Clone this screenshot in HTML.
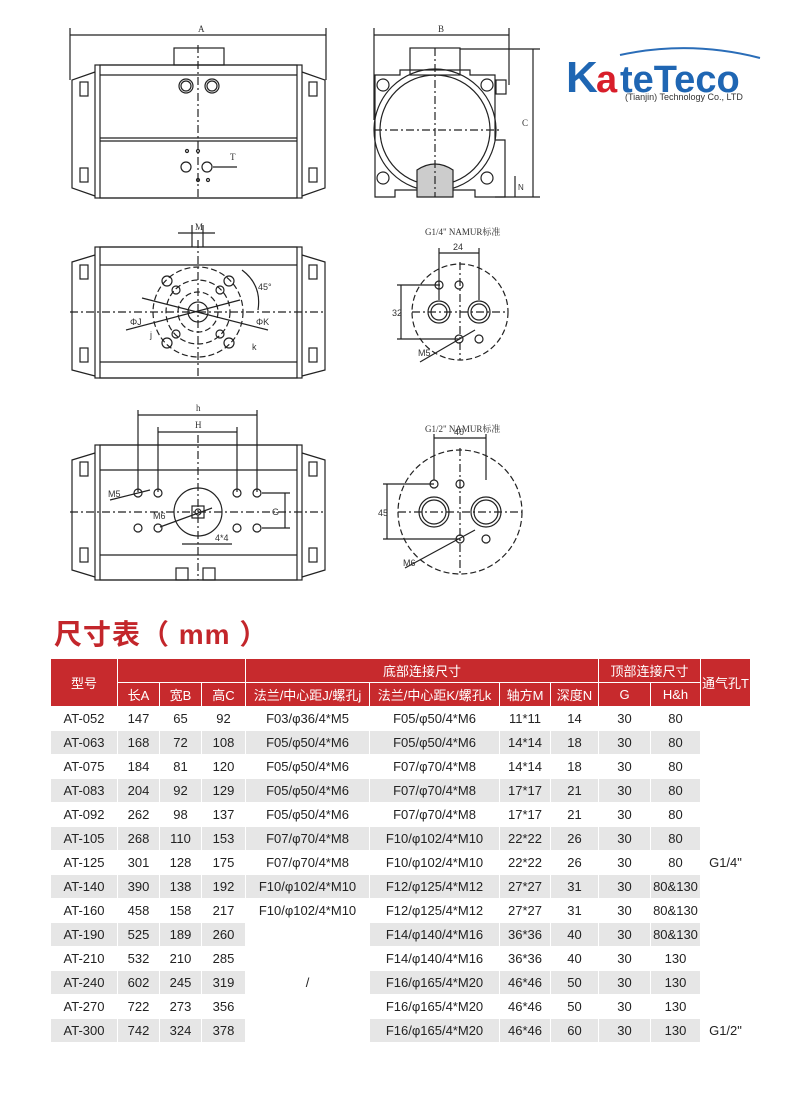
<!DOCTYPE html>
<html><head><meta charset="utf-8"><style>
html,body{margin:0;padding:0;background:#fff;}
body{width:800px;height:1112px;position:relative;overflow:hidden;font-family:"Liberation Sans","Noto Sans CJK SC",sans-serif;}
svg{position:absolute;left:0;top:0;}
.title{position:absolute;left:54px;top:613px;font-size:28px;font-weight:bold;color:#c3262b;letter-spacing:1px;font-family:"Liberation Sans","Noto Sans CJK SC",sans-serif;}
table{position:absolute;left:50px;top:658px;border-collapse:collapse;table-layout:fixed;font-size:13px;color:#222;}
td{padding:0;text-align:center;border:1px solid #fff;height:23px;white-space:nowrap;overflow:hidden;}
.h td{background:#c72a2d;color:#fff;}
.g td.c{background:#e6e6e6;}
</style></head><body>
<svg width="800" height="600" viewBox="0 0 800 600" fill="none" stroke="#222" stroke-width="1.2">
<g>
<line x1="70" y1="35" x2="326" y2="35"/><line x1="70" y1="28" x2="70" y2="80"/><line x1="326" y1="28" x2="326" y2="80"/>
<text x="198" y="32" font-size="9" fill="#333" stroke="none" font-family="Liberation Serif">A</text>
<rect x="174" y="48" width="50" height="17"/>
<rect x="95" y="65" width="207" height="133"/><rect x="100" y="65" width="197" height="133"/>
<line x1="100" y1="75" x2="297" y2="75"/><line x1="100" y1="138" x2="297" y2="138"/><line x1="100" y1="141" x2="297" y2="141"/>
<path d="M95 72 L72 80 L72 188 L95 196"/><path d="M302 72 L325 80 L325 188 L302 196"/>
<rect x="80" y="82" width="8" height="14"/><rect x="80" y="168" width="8" height="14"/>
<rect x="309" y="82" width="8" height="14"/><rect x="309" y="168" width="8" height="14"/>
<circle cx="186" cy="86" r="7"/><circle cx="186" cy="86" r="5"/><circle cx="212" cy="86" r="7"/><circle cx="212" cy="86" r="5"/>
<circle cx="186" cy="167" r="5"/><circle cx="207" cy="167" r="5"/>
<circle cx="187" cy="151" r="1.5"/><circle cx="198" cy="151" r="1.5"/><circle cx="198" cy="180" r="1.5"/><circle cx="208" cy="180" r="1.5"/>
<line x1="198" y1="45" x2="198" y2="198" stroke-dasharray="8,3,2,3"/>
<line x1="213" y1="167" x2="237" y2="167"/>
<text x="230" y="160" font-size="9" fill="#333" stroke="none" font-family="Liberation Serif">T</text>
</g>
<g>
<line x1="374" y1="35" x2="509" y2="35"/><line x1="374" y1="28" x2="374" y2="120"/><line x1="509" y1="28" x2="509" y2="85"/>
<text x="438" y="32" font-size="9" fill="#333" stroke="none" font-family="Liberation Serif">B</text>
<rect x="410" y="48" width="50" height="27"/>
<line x1="460" y1="49" x2="540" y2="49"/><line x1="533" y1="49" x2="533" y2="197"/><line x1="495" y1="197" x2="540" y2="197"/>
<text x="522" y="126" font-size="9" fill="#333" stroke="none" font-family="Liberation Serif">C</text>
<path d="M400 75 L400 70 L470 70 L470 75 L495 75 L495 140 L505 140 L505 197 L475 197 L475 190 L395 190 L395 197 L375 197 L375 75 Z"/>
<circle cx="435" cy="130" r="61"/><circle cx="435" cy="130" r="55"/>
<circle cx="383" cy="85" r="6"/><circle cx="487" cy="85" r="6"/><circle cx="383" cy="178" r="6"/><circle cx="487" cy="178" r="6"/>
<rect x="496" y="80" width="10" height="14"/>
<path d="M417 197 L417 170 Q435 158 453 170 L453 197 Z" fill="#ccc"/>
<line x1="374" y1="130" x2="500" y2="130" stroke-dasharray="8,3,2,3"/><line x1="435" y1="48" x2="435" y2="197" stroke-dasharray="8,3,2,3"/>
<line x1="515" y1="176" x2="515" y2="197"/><text x="518" y="190" font-size="8" fill="#333" stroke="none">N</text>
</g>
<g>
<line x1="178" y1="233" x2="215" y2="233"/><line x1="192" y1="225" x2="192" y2="247"/><line x1="203" y1="225" x2="203" y2="247"/>
<text x="195" y="230" font-size="9" fill="#333" stroke="none" font-family="Liberation Serif">M</text>
<rect x="95" y="247" width="207" height="131"/><rect x="100" y="247" width="197" height="131"/>
<line x1="100" y1="265" x2="297" y2="265"/><line x1="100" y1="362" x2="297" y2="362"/>
<path d="M95 255 L72 262 L72 370 L95 376"/><path d="M302 255 L325 262 L325 370 L302 376"/>
<rect x="80" y="265" width="8" height="14"/><rect x="80" y="348" width="8" height="14"/>
<rect x="309" y="265" width="8" height="14"/><rect x="309" y="348" width="8" height="14"/>
<line x1="70" y1="312" x2="325" y2="312" stroke-dasharray="8,3,2,3"/><line x1="198" y1="240" x2="198" y2="378" stroke-dasharray="8,3,2,3"/>
<circle cx="198" cy="312" r="45" stroke-dasharray="6,3"/><circle cx="198" cy="312" r="32" stroke-dasharray="6,3"/><circle cx="198" cy="312" r="20" stroke-dasharray="6,3"/>
<circle cx="198" cy="312" r="10"/>
<circle cx="167" cy="281" r="5"/><circle cx="229" cy="281" r="5"/><circle cx="167" cy="343" r="5"/><circle cx="229" cy="343" r="5"/>
<circle cx="176" cy="290" r="4"/><circle cx="220" cy="290" r="4"/><circle cx="176" cy="334" r="4"/><circle cx="220" cy="334" r="4"/>
<line x1="142" y1="298" x2="268" y2="330"/><line x1="126" y1="330" x2="240" y2="300"/>
<text x="130" y="325" font-size="9" fill="#333" stroke="none">ΦJ</text><text x="256" y="325" font-size="9" fill="#333" stroke="none">ΦK</text>
<text x="150" y="338" font-size="9" fill="#333" stroke="none">j</text><text x="252" y="350" font-size="9" fill="#333" stroke="none">k</text>
<path d="M242 270 Q262 285 258 310"/><text x="258" y="290" font-size="9" fill="#333" stroke="none">45°</text>
</g>
<g>
<text x="425" y="235" font-size="9" fill="#333" stroke="none" font-family="Liberation Serif,Noto Serif CJK SC">G1/4" NAMUR标准</text>
<line x1="439" y1="253" x2="479" y2="253"/><line x1="439" y1="248" x2="439" y2="300"/><line x1="479" y1="248" x2="479" y2="300"/>
<text x="453" y="250" font-size="9" fill="#333" stroke="none">24</text>
<circle cx="460" cy="312" r="48" stroke-dasharray="6,3"/>
<line x1="412" y1="312" x2="508" y2="312" stroke-dasharray="8,3,2,3"/><line x1="460" y1="262" x2="460" y2="360" stroke-dasharray="8,3,2,3"/>
<circle cx="439" cy="312" r="11"/><circle cx="439" cy="312" r="8"/><circle cx="479" cy="312" r="11"/><circle cx="479" cy="312" r="8"/>
<circle cx="439" cy="285" r="4"/><circle cx="459" cy="285" r="4"/><circle cx="459" cy="339" r="4"/><circle cx="479" cy="339" r="4"/>
<line x1="397" y1="285" x2="440" y2="285"/><line x1="397" y1="339" x2="460" y2="339"/><line x1="401" y1="285" x2="401" y2="339"/>
<text x="392" y="316" font-size="9" fill="#333" stroke="none">32</text>
<line x1="420" y1="362" x2="475" y2="330"/><text x="418" y="356" font-size="9" fill="#333" stroke="none">M5</text>
</g>
<g>
<line x1="138" y1="415" x2="257" y2="415"/><line x1="138" y1="410" x2="138" y2="492"/><line x1="257" y1="410" x2="257" y2="492"/>
<text x="196" y="411" font-size="9" fill="#333" stroke="none" font-family="Liberation Serif">h</text>
<line x1="158" y1="432" x2="237" y2="432"/><line x1="158" y1="427" x2="158" y2="492"/><line x1="237" y1="427" x2="237" y2="492"/>
<text x="195" y="428" font-size="9" fill="#333" stroke="none" font-family="Liberation Serif">H</text>
<rect x="95" y="445" width="207" height="135"/><rect x="100" y="445" width="197" height="135"/>
<line x1="100" y1="470" x2="297" y2="470"/><line x1="100" y1="555" x2="297" y2="555"/>
<path d="M95 453 L72 460 L72 570 L95 577"/><path d="M302 453 L325 460 L325 570 L302 577"/>
<rect x="80" y="462" width="8" height="14"/><rect x="80" y="548" width="8" height="14"/>
<rect x="309" y="462" width="8" height="14"/><rect x="309" y="548" width="8" height="14"/>
<line x1="70" y1="512" x2="325" y2="512" stroke-dasharray="8,3,2,3"/><line x1="198" y1="435" x2="198" y2="580" stroke-dasharray="8,3,2,3"/>
<circle cx="198" cy="512" r="24"/><rect x="192" y="506" width="12" height="12"/><circle cx="198" cy="512" r="3"/>
<circle cx="138" cy="493" r="4"/><circle cx="158" cy="493" r="4"/><circle cx="237" cy="493" r="4"/><circle cx="257" cy="493" r="4"/>
<circle cx="138" cy="528" r="4"/><circle cx="158" cy="528" r="4"/><circle cx="237" cy="528" r="4"/><circle cx="257" cy="528" r="4"/>
<line x1="110" y1="500" x2="150" y2="490"/><text x="108" y="497" font-size="9" fill="#333" stroke="none">M5</text>
<line x1="160" y1="527" x2="212" y2="508"/><text x="153" y="519" font-size="9" fill="#333" stroke="none">M6</text>
<line x1="262" y1="493" x2="290" y2="493"/><line x1="262" y1="528" x2="290" y2="528"/><line x1="285" y1="493" x2="285" y2="528"/>
<text x="272" y="515" font-size="9" fill="#333" stroke="none">G</text>
<line x1="182" y1="544" x2="232" y2="544"/><text x="215" y="541" font-size="9" fill="#333" stroke="none">4*4</text>
<rect x="176" y="568" width="12" height="12"/><rect x="203" y="568" width="12" height="12"/>
</g>
<g>
<text x="425" y="432" font-size="9" fill="#333" stroke="none" font-family="Liberation Serif,Noto Serif CJK SC">G1/2" NAMUR标准</text>
<line x1="434" y1="438" x2="486" y2="438"/><line x1="434" y1="434" x2="434" y2="480"/><line x1="486" y1="434" x2="486" y2="480"/>
<text x="454" y="435" font-size="9" fill="#333" stroke="none">40</text>
<circle cx="460" cy="512" r="62" stroke-dasharray="6,3"/>
<line x1="398" y1="512" x2="522" y2="512" stroke-dasharray="8,3,2,3"/><line x1="460" y1="448" x2="460" y2="576" stroke-dasharray="8,3,2,3"/>
<circle cx="434" cy="512" r="15"/><circle cx="434" cy="512" r="12"/><circle cx="486" cy="512" r="15"/><circle cx="486" cy="512" r="12"/>
<circle cx="434" cy="484" r="4"/><circle cx="460" cy="484" r="4"/><circle cx="460" cy="539" r="4"/><circle cx="486" cy="539" r="4"/>
<line x1="383" y1="484" x2="434" y2="484"/><line x1="383" y1="539" x2="460" y2="539"/><line x1="387" y1="484" x2="387" y2="539"/>
<text x="378" y="516" font-size="9" fill="#333" stroke="none">45</text>
<line x1="405" y1="568" x2="475" y2="530"/><text x="403" y="566" font-size="9" fill="#333" stroke="none">M6</text>
</g>
<path d="M620 55 Q690 40 760 58" stroke="#2a6db8" stroke-width="2"/>
<text x="566" y="92" font-size="44" font-weight="bold" fill="#1f66b3" stroke="none" font-family="Liberation Sans">K</text>
<text x="596" y="92" font-size="38" font-weight="bold" fill="#d81e2a" stroke="none" font-family="Liberation Sans">a</text>
<text x="620" y="92" font-size="38" font-weight="bold" fill="#1f66b3" stroke="none" font-family="Liberation Sans">teTeco</text>
<text x="625" y="100" font-size="9" fill="#333" stroke="none" font-family="Liberation Sans">(Tianjin) Technology Co., LTD</text>
</svg>
<div class="title">尺寸表（ mm ）</div>
<table>
<colgroup><col style="width:67px"><col style="width:42px"><col style="width:42px"><col style="width:44px"><col style="width:124px"><col style="width:130px"><col style="width:51px"><col style="width:48px"><col style="width:52px"><col style="width:50px"><col style="width:50px"></colgroup>
<tr class="h"><td rowspan="2" style="height:45px">型号</td><td colspan="3"></td><td colspan="4">底部连接尺寸</td><td colspan="2">顶部连接尺寸</td><td rowspan="2">通气孔T</td></tr>
<tr class="h"><td>长A</td><td>宽B</td><td>高C</td><td>法兰/中心距J/螺孔j</td><td>法兰/中心距K/螺孔k</td><td>轴方M</td><td>深度N</td><td>G</td><td>H&amp;h</td></tr>
<tr><td class="c">AT-052</td><td class="c">147</td><td class="c">65</td><td class="c">92</td><td class="c">F03/φ36/4*M5</td><td class="c">F05/φ50/4*M6</td><td class="c">11*11</td><td class="c">14</td><td class="c">30</td><td class="c">80</td><td></td></tr>
<tr class="g"><td class="c">AT-063</td><td class="c">168</td><td class="c">72</td><td class="c">108</td><td class="c">F05/φ50/4*M6</td><td class="c">F05/φ50/4*M6</td><td class="c">14*14</td><td class="c">18</td><td class="c">30</td><td class="c">80</td><td></td></tr>
<tr><td class="c">AT-075</td><td class="c">184</td><td class="c">81</td><td class="c">120</td><td class="c">F05/φ50/4*M6</td><td class="c">F07/φ70/4*M8</td><td class="c">14*14</td><td class="c">18</td><td class="c">30</td><td class="c">80</td><td></td></tr>
<tr class="g"><td class="c">AT-083</td><td class="c">204</td><td class="c">92</td><td class="c">129</td><td class="c">F05/φ50/4*M6</td><td class="c">F07/φ70/4*M8</td><td class="c">17*17</td><td class="c">21</td><td class="c">30</td><td class="c">80</td><td></td></tr>
<tr><td class="c">AT-092</td><td class="c">262</td><td class="c">98</td><td class="c">137</td><td class="c">F05/φ50/4*M6</td><td class="c">F07/φ70/4*M8</td><td class="c">17*17</td><td class="c">21</td><td class="c">30</td><td class="c">80</td><td></td></tr>
<tr class="g"><td class="c">AT-105</td><td class="c">268</td><td class="c">110</td><td class="c">153</td><td class="c">F07/φ70/4*M8</td><td class="c">F10/φ102/4*M10</td><td class="c">22*22</td><td class="c">26</td><td class="c">30</td><td class="c">80</td><td></td></tr>
<tr><td class="c">AT-125</td><td class="c">301</td><td class="c">128</td><td class="c">175</td><td class="c">F07/φ70/4*M8</td><td class="c">F10/φ102/4*M10</td><td class="c">22*22</td><td class="c">26</td><td class="c">30</td><td class="c">80</td><td>G1/4"</td></tr>
<tr class="g"><td class="c">AT-140</td><td class="c">390</td><td class="c">138</td><td class="c">192</td><td class="c">F10/φ102/4*M10</td><td class="c">F12/φ125/4*M12</td><td class="c">27*27</td><td class="c">31</td><td class="c">30</td><td class="c">80&amp;130</td><td></td></tr>
<tr><td class="c">AT-160</td><td class="c">458</td><td class="c">158</td><td class="c">217</td><td class="c">F10/φ102/4*M10</td><td class="c">F12/φ125/4*M12</td><td class="c">27*27</td><td class="c">31</td><td class="c">30</td><td class="c">80&amp;130</td><td></td></tr>
<tr class="g"><td class="c">AT-190</td><td class="c">525</td><td class="c">189</td><td class="c">260</td><td></td><td class="c">F14/φ140/4*M16</td><td class="c">36*36</td><td class="c">40</td><td class="c">30</td><td class="c">80&amp;130</td><td></td></tr>
<tr><td class="c">AT-210</td><td class="c">532</td><td class="c">210</td><td class="c">285</td><td></td><td class="c">F14/φ140/4*M16</td><td class="c">36*36</td><td class="c">40</td><td class="c">30</td><td class="c">130</td><td></td></tr>
<tr class="g"><td class="c">AT-240</td><td class="c">602</td><td class="c">245</td><td class="c">319</td><td>/</td><td class="c">F16/φ165/4*M20</td><td class="c">46*46</td><td class="c">50</td><td class="c">30</td><td class="c">130</td><td></td></tr>
<tr><td class="c">AT-270</td><td class="c">722</td><td class="c">273</td><td class="c">356</td><td></td><td class="c">F16/φ165/4*M20</td><td class="c">46*46</td><td class="c">50</td><td class="c">30</td><td class="c">130</td><td></td></tr>
<tr class="g"><td class="c">AT-300</td><td class="c">742</td><td class="c">324</td><td class="c">378</td><td></td><td class="c">F16/φ165/4*M20</td><td class="c">46*46</td><td class="c">60</td><td class="c">30</td><td class="c">130</td><td>G1/2"</td></tr>
</table>
</body></html>
